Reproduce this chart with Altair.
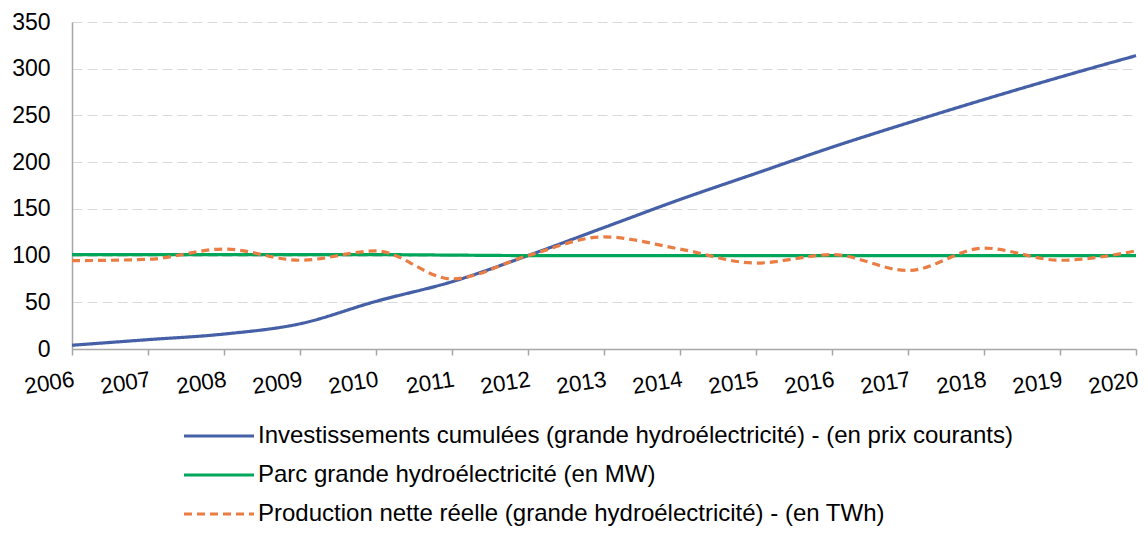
import altair as alt
import pandas as pd

years = list(range(2006, 2021))
invest = [4, 10, 16, 27, 51, 72, 100, 130, 160, 188, 216, 242, 267, 291, 314]
parc = [101, 101, 101, 101, 101, 100.5, 100, 100, 100, 100, 100, 100, 100, 100, 100]
prod = [94.5, 96, 107, 95, 105, 75, 100, 120, 107, 92, 101, 84, 108, 95, 105]

names = [
    "Investissements cumulées (grande hydroélectricité) - (en prix courants)",
    "Parc grande hydroélectricité (en MW)",
    "Production nette réelle (grande hydroélectricité) - (en TWh)",
]
colors = ["#4560a6", "#00a65a", "#ea7d43"]
dashes = [[1, 0], [1, 0], [8, 5]]

rows = []
for name, vals in zip(names, [invest, parc, prod]):
    for y, v in zip(years, vals):
        rows.append({"year": y, "value": v, "series": name})
df = pd.DataFrame(rows)

font = "Liberation Sans"

chart = alt.Chart(df).mark_line(strokeWidth=3.2, interpolate="monotone").encode(
    x=alt.X("year:Q",
            scale=alt.Scale(domain=[2006, 2020], nice=False, zero=False),
            axis=alt.Axis(values=years, format="d", title=None, grid=False,
                          labelAngle=-9, labelAlign="right", labelBaseline="top",
                          labelPadding=13, tickSize=6, labelFontSize=22.5,
                          labelFont=font, labelColor="#000000",
                          domainColor="#a6a6a6", tickColor="#a6a6a6",
                          domainWidth=1.5, tickWidth=1.5, labelOverlap=False,
                          labelFlush=False)),
    y=alt.Y("value:Q",
            scale=alt.Scale(domain=[0, 350], nice=False),
            axis=alt.Axis(values=list(range(0, 351, 50)), title=None,
                          ticks=False, labelPadding=22, labelFontSize=23,
                          labelFont=font, labelColor="#000000",
                          domainColor="#a6a6a6", domainWidth=1.5,
                          gridColor="#d9d9d9", gridDash=[10, 5],
                          gridWidth=1.2)),
    color=alt.Color("series:N",
                    scale=alt.Scale(domain=names, range=colors),
                    legend=alt.Legend(title=None)),
    strokeDash=alt.StrokeDash("series:N",
                              scale=alt.Scale(domain=names, range=dashes),
                              legend=alt.Legend(title=None)),
).properties(
    width=1064,
    height=327,
    autosize=alt.AutoSizeParams(type="none"),
    padding={"left": 64, "top": 14, "right": 4, "bottom": 178},
).configure_view(
    stroke=None
).configure_legend(
    orient="none",
    legendX=110,
    legendY=402,
    direction="vertical",
    symbolType="stroke",
    symbolSize=4900,
    symbolStrokeWidth=3.2,
    clipHeight=24,
    rowPadding=15,
    labelFontSize=24,
    labelFont=font,
    labelColor="#000000",
    labelLimit=1000,
    labelOffset=2,
)

chart.save("out.html", embed_options={"renderer": "svg", "actions": False})
